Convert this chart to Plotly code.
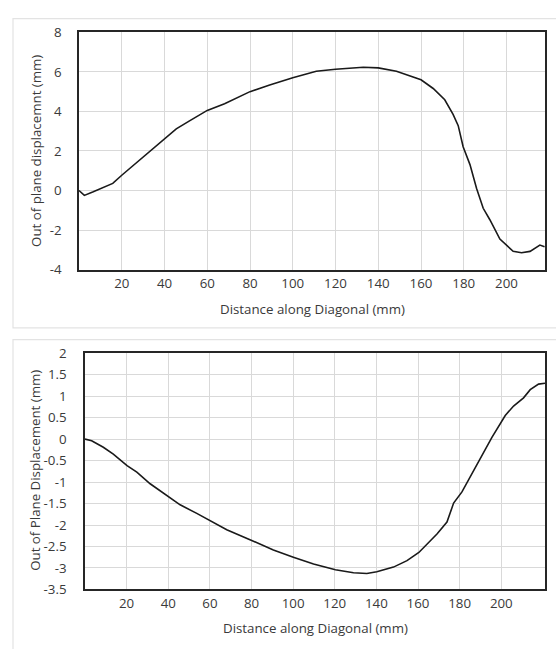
import plotly.graph_objects as go

# Top chart: Out of plane displacement along diagonal
top_x = [0, 2.5, 6.4, 10, 13.5, 15.8, 20, 24.4, 28.6, 33.8, 40, 45.5, 51.7, 60, 68.1, 80,
         89.2, 94, 100, 111, 120, 133, 140, 148.5, 160, 165.7, 171.1, 175, 177.4, 179.7,
         182.9, 186, 189.1, 192.2, 196.9, 203.1, 207, 211, 215.6, 217.8]
top_y = [0.0, -0.25, -0.08, 0.1, 0.28, 0.36, 0.77, 1.18, 1.59, 2.05, 2.62, 3.12, 3.52, 4.05, 4.39, 5.0,
         5.33, 5.5, 5.70, 6.03, 6.13, 6.23, 6.2, 6.03, 5.6, 5.16, 4.59, 3.85, 3.28, 2.21,
         1.31, 0.1, -0.9, -1.48, -2.46, -3.08, -3.15, -3.08, -2.76, -2.84]

# Bottom chart
bot_x = [0, 3.2, 8.8, 13.6, 20.2, 24.9, 31.3, 36.1, 39.9, 45.7, 53.7, 60.1, 68.1, 80.1, 90.5,
         100.1, 109.8, 120.3, 129, 135.4, 140.2, 148.2, 154.7, 160.4, 165.1, 169.1, 173.9,
         177.1, 181.1, 185.1, 189.9, 195.5, 201.9, 205.9, 210.7, 213.9, 217.9, 221]
bot_y = [0.0, -0.04, -0.19, -0.35, -0.62, -0.77, -1.04, -1.2, -1.32, -1.53, -1.73, -1.9, -2.11, -2.36, -2.58,
         -2.75, -2.91, -3.04, -3.11, -3.13, -3.09, -2.98, -2.83, -2.64, -2.42, -2.21, -1.93,
         -1.49, -1.23, -0.87, -0.43, 0.04, 0.55, 0.77, 0.96, 1.15, 1.28, 1.30]

x_ticks = [20, 40, 60, 80, 100, 120, 140, 160, 180, 200]
top_yticks = [-4, -2, 0, 2, 4, 6, 8]
top_ytext = ["-4", "-2", "0", "2", "4", "6", "8"]
bot_yticks = [-3.5, -3, -2.5, -2, -1.5, -1, -0.5, 0, 0.5, 1, 1.5, 2]
bot_ytext = ["-3.5", "-3", "-2.5", "-2", "-1.5", "-1", "-0.5", "0", "0.5", "1", "1.5", "2"]

W, H = 556, 649
FONT = "Open Sans"
TXT = "#3a3a3a"
FS = 13.3

def px(v):
    return v / W

def py(v):
    return 1 - v / H

fig = go.Figure()
fig.add_trace(go.Scatter(x=top_x, y=top_y, mode="lines", line=dict(color="#1a1a1a", width=1.6),
                         xaxis="x", yaxis="y", showlegend=False))
fig.add_trace(go.Scatter(x=bot_x, y=bot_y, mode="lines", line=dict(color="#1a1a1a", width=1.6),
                         xaxis="x2", yaxis="y2", showlegend=False))

common_axis = dict(showgrid=True, gridcolor="#d9d9d9", gridwidth=1, zeroline=False,
                   showline=True, linecolor="#262626", linewidth=1.5, mirror=True,
                   ticks="", tickfont=dict(family=FONT, size=FS, color=TXT))

fig.update_layout(
    width=W, height=H, margin=dict(l=0, r=0, t=0, b=0),
    paper_bgcolor="white", plot_bgcolor="white",
    xaxis=dict(domain=[px(79), px(545)], range=[0, 218], tickvals=x_ticks, anchor="y",
               ticklabelstandoff=1, **common_axis),
    yaxis=dict(domain=[py(268), py(24)], range=[-4, 8], tickvals=top_yticks, ticktext=top_ytext,
               anchor="x", ticklabelstandoff=13, **common_axis),
    xaxis2=dict(domain=[px(85), px(545)], range=[0, 221], tickvals=x_ticks, anchor="y2",
                ticklabelstandoff=1, **common_axis),
    yaxis2=dict(domain=[py(597), py(354)], range=[-3.5, 2], tickvals=bot_yticks, ticktext=bot_ytext,
                anchor="x2", ticklabelstandoff=14, **common_axis),
    shapes=[
        dict(type="rect", xref="paper", yref="paper", x0=px(13), x1=px(600), y0=py(328), y1=py(10),
             line=dict(color="#e3e3e3", width=1.2), fillcolor="rgba(0,0,0,0)", layer="below"),
        dict(type="rect", xref="paper", yref="paper", x0=px(13), x1=px(600), y0=py(700), y1=py(340),
             line=dict(color="#e3e3e3", width=1.2), fillcolor="rgba(0,0,0,0)", layer="below"),
    ],
    annotations=[
        dict(text="Distance along Diagonal (mm)", xref="paper", yref="paper", x=px(312), y=py(309),
             showarrow=False, font=dict(family=FONT, size=FS, color=TXT), xanchor="center", yanchor="middle"),
        dict(text="Out of plane displacemnt (mm)", xref="paper", yref="paper", x=px(36), y=py(146),
             showarrow=False, textangle=-90, font=dict(family=FONT, size=FS, color=TXT),
             xanchor="center", yanchor="middle"),
        dict(text="Distance along Diagonal (mm)", xref="paper", yref="paper", x=px(315), y=py(637),
             showarrow=False, font=dict(family=FONT, size=FS, color=TXT), xanchor="center", yanchor="middle"),
        dict(text="Out of Plane Displacement (mm)", xref="paper", yref="paper", x=px(35), y=py(475),
             showarrow=False, textangle=-90, font=dict(family=FONT, size=FS, color=TXT),
             xanchor="center", yanchor="middle"),
    ],
)

fig.write_html("out.html", post_script="document.body.style.margin='0';")
